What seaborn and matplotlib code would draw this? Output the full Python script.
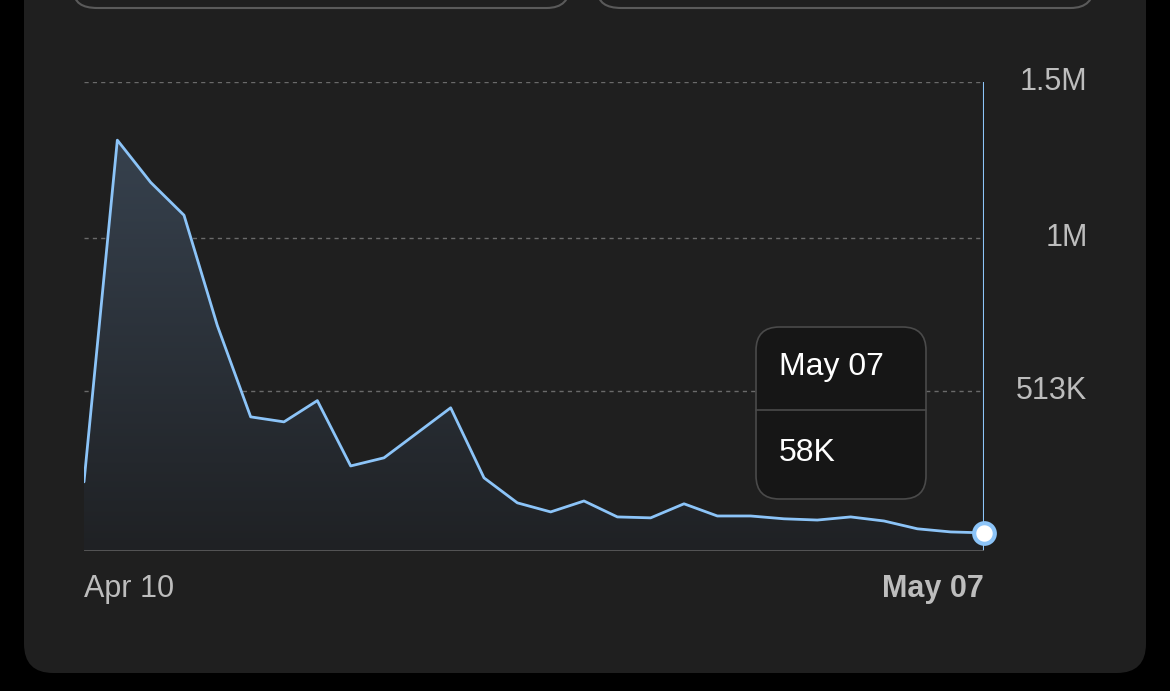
import matplotlib
matplotlib.use("Agg")
import matplotlib.pyplot as plt
from matplotlib.patches import FancyBboxPatch
import seaborn as sns
import pandas as pd
import numpy as np

days = list(range(28))
values = [221, 1314, 1179, 1074, 721, 429, 413, 481, 272, 298, 378, 458, 234, 154,
          125, 160, 109, 106, 151, 112, 112, 103, 99, 109, 96, 71, 61, 58]
values = [v * 1000 for v in values]
yticks = [513000, 1000000, 1500000]
ytick_labels = ["513K", "1M", "1.5M"]
tip_date, tip_value = "May 07", "58K"

df = pd.DataFrame({"day": days, "value": values})
sns.set_theme(style="dark")
plt.rcParams['font.family'] = ['Liberation Sans', 'DejaVu Sans']

W, H = 1170, 691
fig = plt.figure(figsize=(W / 100, H / 100), dpi=100)
fig.patch.set_facecolor("black")
card = FancyBboxPatch((24 / W, 18 / H), 1122 / W, 720 / H, boxstyle="round,pad=0,rounding_size=0.025",
                      transform=fig.transFigure, facecolor="#1f1f1f", edgecolor="none", mutation_aspect=W / H,
                      zorder=-10)
fig.patches.append(card)
for x0 in (74, 598):
    fig.patches.append(FancyBboxPatch((x0 / W, 1 - 8 / H), 496 / W, 40 / H, boxstyle="round,pad=0,rounding_size=0.02",
                                      transform=fig.transFigure, facecolor="none", edgecolor="#5a5a5a", lw=1.5,
                                      mutation_aspect=W / H, zorder=-9))

ax = fig.add_axes([84 / W, 1 - 551 / H, 900 / W, (551 - 82) / H])
ax.set_facecolor("none")
ax.set_xlim(0, 27)
ax.set_ylim(0, 1500000)
for y in yticks:
    ax.axhline(y, color="#6a6a6a", ls=(0, (3, 3)), lw=1, zorder=0)
xs = np.array(days, float)
ys = np.array(values, float)
grad = np.linspace(0, 1, 256).reshape(-1, 1)
im = ax.imshow(grad, extent=[0, 27, 0, 1500000], origin="lower", aspect="auto",
               cmap=matplotlib.colors.LinearSegmentedColormap.from_list("g", ["#1f2124", "#3a4654"]), zorder=1)
poly = ax.fill_between(xs, ys, 0, color="none")
im.set_clip_path(poly.get_paths()[0], transform=ax.transData)
sns.lineplot(data=df, x="day", y="value", ax=ax, color="#8cc4f8", lw=2, zorder=3)
ax.axvline(27, color="#8cc4f8", lw=1.5, zorder=2)
ax.axhline(0, color="#5a5a5a", lw=2, zorder=2)
ax.scatter([27], [values[-1]], s=220, color="white", edgecolor="#8cc4f8", lw=3, zorder=5, clip_on=False)
for s in ax.spines.values():
    s.set_visible(False)
ax.set_xticks([])
ax.set_yticks([])
ax.set_xlabel("")
ax.set_ylabel("")
for y, lab in zip(yticks, ytick_labels):
    ax.text(1.115, y, lab, transform=ax.get_yaxis_transform(), ha="right", va="center",
            color="#bdbdbd", fontsize=22)
ax.text(0, -0.08, "Apr 10", transform=ax.transAxes, ha="left", va="center", color="#bdbdbd", fontsize=22)
ax.text(1, -0.08, "May 07", transform=ax.transAxes, ha="right", va="center", color="#bdbdbd",
        fontsize=22, fontweight="bold")

fig.patches.append(FancyBboxPatch((756 / W, 1 - 499 / H), 170 / W, 172 / H, boxstyle="round,pad=0,rounding_size=0.02",
                                  transform=fig.transFigure, facecolor="#161616", edgecolor="#4a4a4a", lw=1.2,
                                  mutation_aspect=W / H, zorder=10))
fig.add_artist(plt.Line2D([756 / W, 926 / W], [1 - 410 / H, 1 - 410 / H], color="#4a4a4a", lw=1.2, zorder=11))
fig.text(779 / W, 1 - 367 / H, tip_date, color="white", fontsize=23, va="center", zorder=12)
fig.text(779 / W, 1 - 453 / H, tip_value, color="white", fontsize=23, va="center", zorder=12)

fig.savefig("out.png", dpi=100, facecolor=fig.get_facecolor())
